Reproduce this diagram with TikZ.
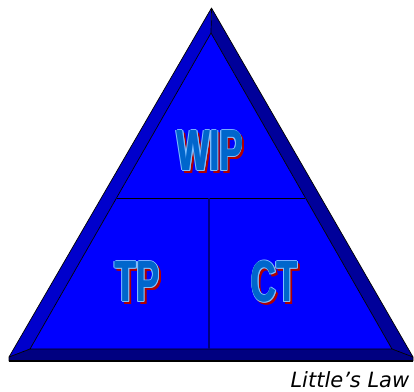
\documentclass[tikz,border=0pt]{standalone}
\usepackage{fontspec}
\setmainfont{Liberation Sans}
\newfontfamily\captionfont{DejaVu Sans}
\usepackage{graphicx}
\usetikzlibrary{calc}

\definecolor{mainblue}{HTML}{0000FF}
\definecolor{leftface}{HTML}{0000CC}
\definecolor{rightface}{HTML}{00009A}
\definecolor{bottomface}{HTML}{000080}
\definecolor{txtfill}{HTML}{0066CC}
\definecolor{txtline}{HTML}{80C0FF}
\definecolor{txtshadow}{HTML}{B00000}

\newcommand{\bigletters}[1]{\fontsize{58}{58}\selectfont\bfseries\scalebox{0.6}[1]{#1}}
\newcommand{\fancylabel}[3]{%
  \foreach \dx/\dy in {1.5/2.5,2.5/1.5,2.5/2.5,3/3} {\node[inner sep=0pt,text=txtshadow] at ($(#2)+(\dx,\dy)$) {\bigletters{#3}};}
  \foreach \dx/\dy in {-1.3/0,1.3/0,0/-1,0/1,-1/-0.8,1/0.8,-1/0.8,1/-0.8} {\node[inner sep=0pt,text=txtline] at ($(#2)+(\dx,\dy)$) {\bigletters{#3}};}
  \node[inner sep=0pt,text=txtfill] at ($(#2)+(-0.4,0)$) {\bigletters{#3}};
  \node[inner sep=0pt,text=txtfill] (#1) at ($(#2)+(0.4,0)$) {\bigletters{#3}};
}

\begin{document}
\begin{tikzpicture}[x=1pt,y=-1pt,
  seam/.style={draw=black,line width=0.7pt,line join=round}]
\useasboundingbox (0,0) rectangle (414,391);
% outer and inner corners
\coordinate (A) at (211.5,8);
\coordinate (B) at (9,357);
\coordinate (C) at (413,357);
\coordinate (Bb) at (9,361);
\coordinate (Cb) at (413,361);
\coordinate (a) at (211,33);
\coordinate (b) at (30,349);
\coordinate (c) at (392,349);
% faces
\fill[leftface] (A) -- (a) -- (b) -- (B) -- cycle;
\fill[rightface] (A) -- (C) -- (c) -- (a) -- cycle;
\fill[bottomface] (b) -- (c) -- (C) -- (Cb) -- (Bb) -- (B) -- cycle;
\fill[mainblue] (a) -- (b) -- (c) -- cycle;
% edges
\draw[seam] (A) -- (B) -- (Bb) -- (Cb) -- (C) -- cycle;
\draw[seam] (a) -- (b) -- (c) -- cycle;
\draw[seam] (A) -- (a) (B) -- (b) (C) -- (c);
\draw[black,line width=1.6pt] (Bb) -- (Cb);
% dividers
\coordinate (hl) at ($(a)!0.522!(b)$);
\coordinate (hr) at ($(a)!0.522!(c)$);
\coordinate (vt) at (209,198);
\coordinate (vb) at (209,349);
\draw[black,line width=0.8pt] (hl) -- (hr);
\draw[bottomface,line width=2.4pt] (vt) -- (vb);
% labels
\fancylabel{wip}{210,151}{WIP}
\fancylabel{tp}{137.5,282}{TP}
\fancylabel{ct}{274.5,282}{CT}
\node[anchor=base east,inner sep=0pt,text depth=0pt,font=\captionfont\itshape\fontsize{21}{21}\selectfont] (law) at (409.5,387.5) {Little’s Law};
\end{tikzpicture}
\end{document}
